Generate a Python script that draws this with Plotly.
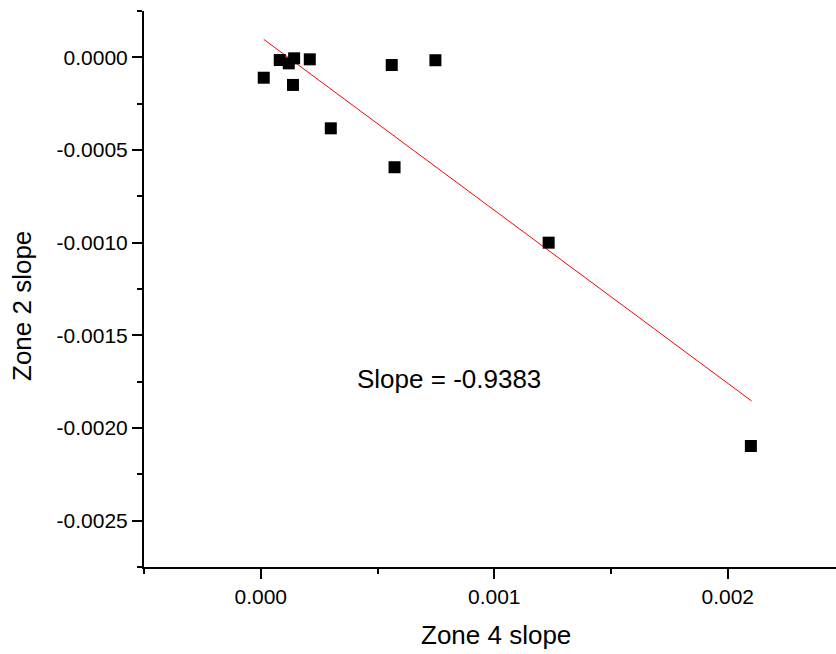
import plotly.graph_objects as go

# Data
zone4_slope = [0.0000128, 0.0000814, 0.000120, 0.000143, 0.000210, 0.000138,
               0.000300, 0.000561, 0.000748, 0.000573, 0.001233, 0.002099]
zone2_slope = [-0.000110, -0.0000146, -0.0000324, -0.0000054, -0.0000108, -0.000149,
               -0.000383, -0.0000415, -0.0000156, -0.000593, -0.001000, -0.002097]

fit_x = [0.0000128, 0.002102]
fit_y = [0.0000971, -0.001854]

x_tick_vals = [0.000, 0.001, 0.002]
x_tick_labels = ["0.000", "0.001", "0.002"]
y_tick_vals = [0.0000, -0.0005, -0.0010, -0.0015, -0.0020, -0.0025]
y_tick_labels = ["0.0000", "-0.0005", "-0.0010", "-0.0015", "-0.0020", "-0.0025"]

annotation_text = "Slope = -0.9383"
x_title = "Zone 4 slope"
y_title = "Zone 2 slope"

FONT = "Liberation Sans, Arial, Helvetica, sans-serif"
TICK_SIZE = 21
TEXT_SIZE = 26

fig = go.Figure()
fig.add_trace(go.Scatter(x=fit_x, y=fit_y, mode="lines",
                         line=dict(color="#ff0000", width=1), showlegend=False,
                         hoverinfo="skip"))
fig.add_trace(go.Scatter(x=zone4_slope, y=zone2_slope, mode="markers",
                         marker=dict(symbol="square", size=12, color="black",
                                     line=dict(width=0)), showlegend=False))

L, R, T, B = 144, 0, 11, 87
W, H = 836, 654
plot_w = W - L - R
plot_h = H - T - B

fig.update_layout(
    width=W, height=H,
    margin=dict(l=L, r=R, t=T, b=B, pad=0),
    paper_bgcolor="white", plot_bgcolor="white",
    font=dict(family=FONT, color="black", size=TICK_SIZE),
    xaxis=dict(range=[-0.0005, 0.0024636], showline=True, linecolor="black", linewidth=2,
               showgrid=False, zeroline=False,
               tickmode="array", tickvals=x_tick_vals, ticktext=x_tick_labels,
               ticks="outside", ticklen=10, tickwidth=2, tickcolor="black",
               tickfont=dict(size=TICK_SIZE, family=FONT, color="black"),
               minor=dict(dtick=0.0005, tick0=0, ticks="outside", ticklen=5,
                          tickwidth=2, tickcolor="black", showgrid=False)),
    yaxis=dict(range=[-0.00275, 0.00025], showline=True, linecolor="black", linewidth=2,
               showgrid=False, zeroline=False,
               tickmode="array", tickvals=y_tick_vals, ticktext=y_tick_labels,
               ticks="outside", ticklen=10, tickwidth=2, tickcolor="black",
               tickfont=dict(size=TICK_SIZE, family=FONT, color="black"),
               minor=dict(dtick=0.00025, tick0=0, ticks="outside", ticklen=5,
                          tickwidth=2, tickcolor="black", showgrid=False)),
    annotations=[
        dict(text=annotation_text, x=(449 - L) / plot_w, y=(H - B - 379) / plot_h,
             xref="paper", yref="paper", xanchor="center", yanchor="middle",
             showarrow=False, font=dict(size=TEXT_SIZE, family=FONT, color="black")),
        dict(text=x_title, x=(496 - L) / plot_w, y=(H - B - 635) / plot_h,
             xref="paper", yref="paper", xanchor="center", yanchor="middle",
             showarrow=False, font=dict(size=TEXT_SIZE, family=FONT, color="black")),
        dict(text=y_title, x=(22 - L) / plot_w, y=(H - B - 306) / plot_h,
             xref="paper", yref="paper", xanchor="center", yanchor="middle", textangle=-90,
             showarrow=False, font=dict(size=TEXT_SIZE, family=FONT, color="black")),
    ],
)

fig.write_html("out.html", config={"displayModeBar": False},
               post_script="document.body.style.margin='0';document.body.style.overflow='hidden';")
